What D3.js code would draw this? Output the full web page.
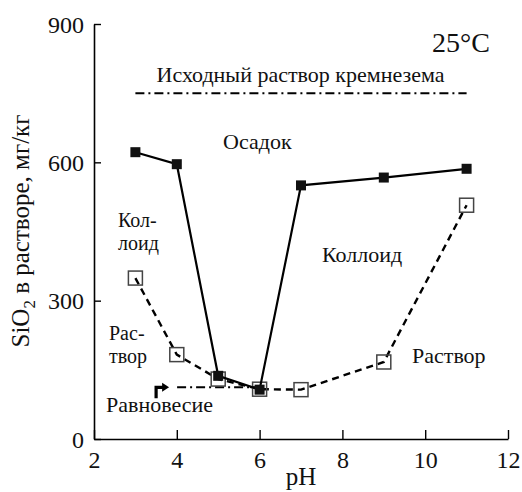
<!DOCTYPE html>
<html><head><meta charset="utf-8">
<script src="https://cdn.jsdelivr.net/npm/d3@7"></script>
<style>body{margin:0;background:#fff}</style>
</head><body><svg id="c" width="522" height="492"></svg>
<script>
const pH = [3, 4, 5, 6, 7, 9, 11];
const precipitate = [622, 596, 137, 107, 550, 567, 586];
const solution = [349, 183, 130, 108, 107, 167, 507];
const initialSilica = 750;
const equilibrium = {from: 3.5, to: 6, value: 112};
const xTicks = [2, 4, 6, 8, 10, 12];
const yTicks = [0, 300, 600, 900];

const FONT = "'Liberation Serif', 'Times New Roman', serif";
const svg = d3.select("#c");
const x = d3.scaleLinear().domain([2, 12]).range([94, 508]);
const y = d3.scaleLinear().domain([0, 900]).range([439, 24]);

// axes
const gx = svg.append("g").attr("transform", `translate(0,${y(0)})`)
  .call(d3.axisBottom(x).tickValues(xTicks).tickSizeInner(-9).tickSizeOuter(0).tickPadding(12));
const gy = svg.append("g").attr("transform", `translate(${x(2)},0)`)
  .call(d3.axisLeft(y).tickValues(yTicks).tickSizeInner(-7).tickSizeOuter(0).tickPadding(10));
[gx, gy].forEach(g => {
  g.select(".domain").attr("stroke", "#000").attr("stroke-width", 1.6);
  g.selectAll(".tick line").attr("stroke", "#000").attr("stroke-width", 1.4);
  g.selectAll(".tick text").style("font-family", FONT).attr("font-size", 24).attr("fill", "#111");
});
gx.selectAll(".tick text").attr("dy", "0.71em");
gy.selectAll(".tick text").attr("dy", "0.34em");

// initial silica line
svg.append("line").attr("x1", x(3)).attr("x2", x(11)).attr("y1", y(initialSilica)).attr("y2", y(initialSilica))
  .attr("stroke", "#000").attr("stroke-width", 2).attr("stroke-dasharray", "9,4,2,4");
svg.append("text").attr("x", 300.5).attr("y", 82).attr("text-anchor", "middle")
  .attr("font-size", 22).style("font-family", FONT).attr("fill", "#111").text("Исходный раствор кремнезема");

// equilibrium line with bent arrow
const eqY = y(equilibrium.value);
const ax = x(equilibrium.from);
svg.append("path").attr("d", `M${ax},${eqY + 11} L${ax},${eqY} L${ax + 7},${eqY}`)
  .attr("fill", "none").attr("stroke", "#000").attr("stroke-width", 3.2);
svg.append("path").attr("d", `M${ax + 6},${eqY - 4.5} L${ax + 13},${eqY} L${ax + 6},${eqY + 4.5} Z`).attr("fill", "#000");
svg.append("line").attr("x1", ax + 21).attr("x2", x(equilibrium.to)).attr("y1", eqY).attr("y2", eqY)
  .attr("stroke", "#000").attr("stroke-width", 2).attr("stroke-dasharray", "9,4,2,4");

const line = d3.line().x((d, i) => x(pH[i])).y(d => y(d));
// dashed solution line
svg.append("path").datum(solution).attr("d", line).attr("fill", "none")
  .attr("stroke", "#000").attr("stroke-width", 2.4).attr("stroke-dasharray", "7,5");
svg.selectAll(".os").data(solution).join("rect").attr("class", "os")
  .attr("x", (d, i) => x(pH[i]) - 7).attr("y", d => y(d) - 7).attr("width", 14).attr("height", 14)
  .attr("fill", "none").attr("stroke", "#444").attr("stroke-width", 1.5);
// solid precipitate line
svg.append("path").datum(precipitate).attr("d", line).attr("fill", "none")
  .attr("stroke", "#000").attr("stroke-width", 2.2);
svg.selectAll(".fs").data(precipitate).join("rect").attr("class", "fs")
  .attr("x", (d, i) => x(pH[i]) - 5).attr("y", d => y(d) - 5).attr("width", 10).attr("height", 10)
  .attr("fill", "#111");

// annotations
const ann = [
  {t: "25°C", x: 432, y: 52, s: 28},
  {t: "Осадок", x: 223, y: 149, s: 22},
  {t: "Кол-", x: 118, y: 227, s: 20},
  {t: "лоид", x: 118, y: 250, s: 20},
  {t: "Коллоид", x: 322, y: 262, s: 22},
  {t: "Рас-", x: 109, y: 340, s: 20},
  {t: "твор", x: 109, y: 363, s: 20},
  {t: "Раствор", x: 412, y: 363, s: 22},
  {t: "Равновесие", x: 106, y: 412, s: 22}
];
svg.selectAll(".ann").data(ann).join("text").attr("class", "ann")
  .attr("x", d => d.x).attr("y", d => d.y).attr("font-size", d => d.s)
  .style("font-family", FONT).attr("fill", "#111").text(d => d.t);

// axis titles
svg.append("text").attr("x", 301).attr("y", 485).attr("text-anchor", "middle").attr("font-size", 25)
  .style("font-family", FONT).attr("fill", "#111").text("pH");
const yl = svg.append("text").attr("transform", "translate(29,231) rotate(-90)").attr("text-anchor", "middle")
  .attr("font-size", 25).style("font-family", FONT).attr("fill", "#111");
yl.append("tspan").text("SiO");
yl.append("tspan").attr("font-size", 17).attr("dy", 6).text("2");
yl.append("tspan").attr("dy", -6).text(" в растворе, мг/кг");
</script></body></html>
